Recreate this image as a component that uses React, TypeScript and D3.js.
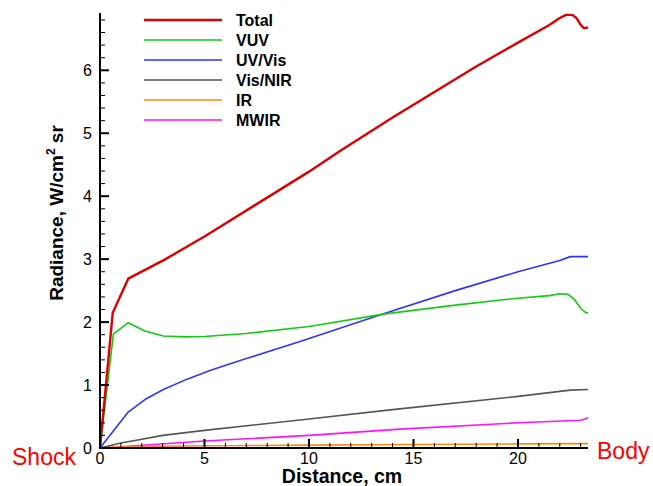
import React from "react";
import * as d3 from "d3";

// distance (cm) / radiance (W/cm^2 sr)
const totalX = [0, 0.61, 1.35, 3.03, 5, 10, 11.5, 14, 18, 20, 21.5, 22.0, 22.3, 22.6, 22.8, 23.0, 23.15, 23.35];
const totalY = [0, 2.15, 2.69, 2.98, 3.36, 4.39, 4.72, 5.25, 6.06, 6.44, 6.72, 6.83, 6.88, 6.88, 6.83, 6.72, 6.67, 6.68];

const vuvX = [0, 0.64, 1.35, 2.15, 3.03, 4.07, 5, 7, 10, 13.64, 17, 20, 21.5, 22.0, 22.4, 22.7, 23.0, 23.2, 23.35];
const vuvY = [0, 1.81, 1.99, 1.86, 1.78, 1.765, 1.77, 1.82, 1.93, 2.13, 2.27, 2.38, 2.42, 2.45, 2.44, 2.36, 2.22, 2.16, 2.14];

const uvVisX = [0, 1.35, 2.15, 3.03, 4.14, 5.26, 7, 9.57, 13.64, 17, 20, 22.0, 22.5, 23.35];
const uvVisY = [0, 0.57, 0.77, 0.93, 1.09, 1.23, 1.42, 1.69, 2.14, 2.5, 2.8, 2.98, 3.04, 3.04];

const visNirX = [0, 1, 2, 3, 5, 10, 14, 20, 22.5, 23.35];
const visNirY = [0, 0.08, 0.14, 0.2, 0.28, 0.46, 0.61, 0.82, 0.92, 0.93];

const irX = [0, 1, 5, 10, 15, 20, 23.35];
const irY = [0, 0.02, 0.035, 0.045, 0.055, 0.065, 0.07];

const mwirX = [0, 1, 5, 10, 14.35, 20, 23.0, 23.2, 23.35];
const mwirY = [0, 0.02, 0.11, 0.2, 0.3, 0.4, 0.44, 0.46, 0.48];

const seriesNames = ["Total", "VUV", "UV/Vis", "Vis/NIR", "IR", "MWIR"];
const seriesColors = ["#dd0000", "#11cc11", "#3333ff", "#555555", "#ff8811", "#ff11ff"];
const seriesX = [totalX, vuvX, uvVisX, visNirX, irX, mwirX];
const seriesY = [totalY, vuvY, uvVisY, visNirY, irY, mwirY];

const xTicks = [0, 5, 10, 15, 20];
const yTicks = [0, 1, 2, 3, 4, 5, 6];

const W = 653, H = 486;
const font = "Liberation Sans, Arial, Helvetica, sans-serif";

export default function App() {
  const x = d3.scaleLinear().domain([0, 23.35]).range([100, 588]);
  const y = d3.scaleLinear().domain([0, 6.91]).range([448, 13]);

  const line = d3
    .line<[number, number]>()
    .x(d => x(d[0]))
    .y(d => y(d[1]));

  const xMinor = d3.range(0, 23.35, 1);
  const yMinor = d3.range(0, 6.91, 0.2);

  return (
    <svg width={W} height={H} style={{ position: "absolute", left: 0, top: 0 }}>
      <rect width={W} height={H} fill="white" />
      {/* curves, drawn bottom-up so Total sits on top */}
      {seriesNames.map((n, i) => i).reverse().map(i => (
        <path
          key={seriesNames[i]}
          d={line(seriesX[i].map((v, j) => [v, seriesY[i][j]] as [number, number])) || ""}
          fill="none"
          stroke={seriesColors[i]}
          strokeWidth={i === 0 ? 2.4 : 1.6}
          strokeLinejoin="round"
        />
      ))}

      {/* axes */}
      <line x1={x(0)} x2={x(0)} y1={y(0) + 1} y2={y.range()[1]} stroke="black" strokeWidth={2} />
      <line x1={x(0) - 1} x2={x.range()[1]} y1={y(0)} y2={y(0)} stroke="black" strokeWidth={2} />
      {xMinor.map(v => (
        <line key={"xm" + v} x1={x(v)} x2={x(v)} y1={y(0)} y2={y(0) - (v % 5 === 0 ? 9 : 5)}
          stroke="black" strokeWidth={v % 5 === 0 ? 2 : 1} />
      ))}
      {yMinor.map((v, k) => (
        <line key={"ym" + k} x1={x(0)} x2={x(0) + (k % 5 === 0 ? 9 : 5)} y1={y(v)} y2={y(v)}
          stroke="black" strokeWidth={k % 5 === 0 ? 2 : 1} />
      ))}
      {xTicks.map(v => (
        <text key={"xt" + v} x={x(v)} y={464} textAnchor="middle" fontFamily={font} fontSize={16}>{v}</text>
      ))}
      {yTicks.map(v => (
        <text key={"yt" + v} x={92} y={y(v) + 6} textAnchor="end" fontFamily={font} fontSize={16}>{v}</text>
      ))}
      <text x={342} y={483} textAnchor="middle" fontFamily={font} fontSize={19.5} fontWeight="bold">Distance, cm</text>
      <text transform="translate(63,213) rotate(-90)" textAnchor="middle" fontFamily={font} fontSize={19} fontWeight="bold">
        Radiance, W/cm<tspan dy={-8} fontSize={12}>2</tspan><tspan dy={8}> sr</tspan>
      </text>
      <text x={12} y={465} fontFamily={font} fontSize={23} fill="#ff0000">Shock</text>
      <text x={597} y={459} fontFamily={font} fontSize={23} fill="#ff0000">Body</text>

      {/* legend */}
      {seriesNames.map((n, i) => (
        <g key={"lg" + n} transform={`translate(0,${20 + i * 20})`}>
          <line x1={144} x2={222} y1={0} y2={0} stroke={seriesColors[i]} strokeWidth={i === 0 ? 2.4 : 1.6} />
          <text x={236} y={5.5} fontFamily={font} fontSize={16} fontWeight="bold">{n}</text>
        </g>
      ))}
    </svg>
  );
}
